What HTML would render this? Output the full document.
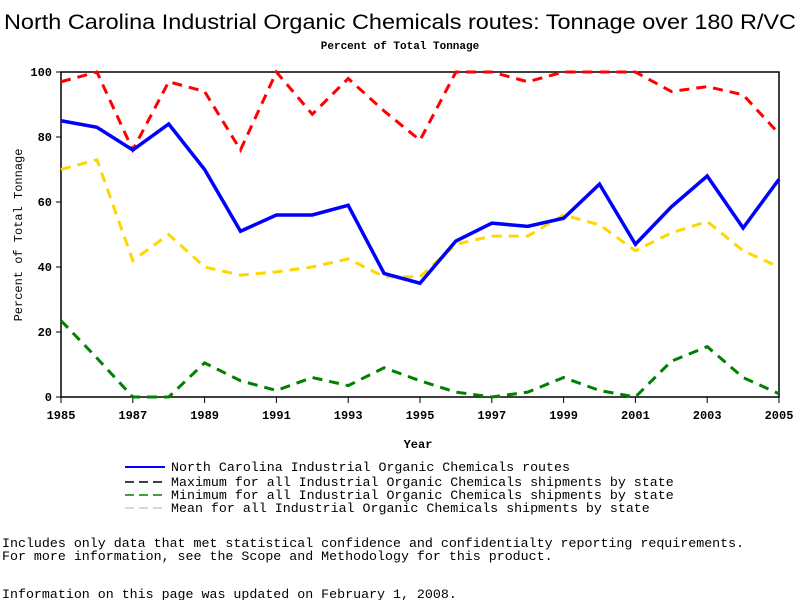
<!DOCTYPE html>
<html><head><meta charset="utf-8"><style>
body{margin:0;background:#fff;width:800px;height:600px;overflow:hidden}
svg text{font-family:"Liberation Mono",monospace}
</style></head><body>
<svg id="c" width="800" height="600" xmlns="http://www.w3.org/2000/svg">
<text x="400" y="29" text-anchor="middle" font-size="21" textLength="792" lengthAdjust="spacingAndGlyphs" style="font-family:'Liberation Sans',sans-serif">North Carolina Industrial Organic Chemicals routes: Tonnage over 180 R/VC</text>
<text x="400" y="49" text-anchor="middle" font-size="11" font-weight="bold">Percent of Total Tonnage</text>
<rect x="61" y="72" width="718" height="325" fill="none" stroke="#000" stroke-width="1.5"/>
<g id="ticks"></g>
<g id="lines"></g>
<text x="418" y="448" text-anchor="middle" font-size="12" font-weight="bold">Year</text>
<text transform="translate(22,235) rotate(-90)" text-anchor="middle" font-size="12">Percent of Total Tonnage</text>
<g font-size="13.3">
<line x1="125" y1="467" x2="165" y2="467" stroke="#0000ff" stroke-width="2"/>
<text x="171" y="471">North Carolina Industrial Organic Chemicals routes</text>
<line x1="125" y1="482" x2="165" y2="482" stroke="#000" stroke-width="1.5" stroke-dasharray="9,5"/>
<text x="171" y="486">Maximum for all Industrial Organic Chemicals shipments by state</text>
<line x1="125" y1="495" x2="165" y2="495" stroke="#008000" stroke-width="1.5" stroke-dasharray="9,5"/>
<text x="171" y="499">Minimum for all Industrial Organic Chemicals shipments by state</text>
<line x1="125" y1="508" x2="165" y2="508" stroke="#ccc" stroke-width="1.5" stroke-dasharray="9,5"/>
<text x="171" y="512">Mean for all Industrial Organic Chemicals shipments by state</text>
<text x="2" y="547">Includes only data that met statistical confidence and confidentialty reporting requirements.</text>
<text x="2" y="560">For more information, see the Scope and Methodology for this product.</text>
<text x="2" y="598">Information on this page was updated on February 1, 2008.</text>
</g>
</svg>
<script>
const years=[1985,1986,1987,1988,1989,1990,1991,1992,1993,1994,1995,1996,1997,1998,1999,2000,2001,2002,2003,2004,2005];
const ncValues=[85,83,76,84,70,51,56,56,59,38,35,48,53.5,52.5,55,65.5,47,58.5,68,52,67];
const maxValues=[97,100,76,97,94,76,100,87,98,88,79,100,100,97,100,100,100,94,95.5,93,81];
const meanValues=[70,73,42,50,40,37.5,38.5,40,42.5,37,37,47,49.5,49.5,56,53,45,50.5,54,45,40];
const minValues=[23.5,12,0,0,10.5,5,2,6,3.5,9,5,1.5,0,1.5,6,2,0,11,15.5,6,1];
const yTicks=[0,20,40,60,80,100];
const xTicks=[1985,1987,1989,1991,1993,1995,1997,1999,2001,2003,2005];
const NS="http://www.w3.org/2000/svg";
const X=y=>61+(y-1985)*(718/20), Y=v=>397-v*3.25;
const tg=document.getElementById('ticks'), lg=document.getElementById('lines');
function mk(t,a,p){const e=document.createElementNS(NS,t);for(const k in a)e.setAttribute(k,a[k]);p.appendChild(e);return e;}
yTicks.forEach(v=>{
 const l=mk('line',{x1:56,x2:61,y1:Y(v),y2:Y(v),stroke:'#000'},tg);
 
 
 const t=mk('text',{x:52,y:Y(v)+4,'text-anchor':'end','font-size':12,'font-weight':'bold'},tg);t.textContent=v;
 
 
});
xTicks.forEach(v=>{
 const l=mk('line',{x1:X(v),x2:X(v),y1:397,y2:403,stroke:'#000'},tg);
 
 
 const t=mk('text',{x:X(v),y:419,'text-anchor':'middle','font-size':12,'font-weight':'bold'},tg);t.textContent=v;
 
 
});
function series(vals,color,w,dash,name){
 const p=mk('polyline',{points:vals.map((v,i)=>X(years[i])+','+Y(v)).join(' '),fill:'none',stroke:color,'stroke-width':w,'stroke-dasharray':dash||'none'},lg);
 
 
}
series(maxValues,'#ff0000',3,'10,7','max-line');
series(meanValues,'#ffd700',3,'10,7','mean-line');
series(minValues,'#008000',3,'10,7','min-line');
series(ncValues,'#0000ff',3.5,null,'nc-line');
</script>
</body></html>
